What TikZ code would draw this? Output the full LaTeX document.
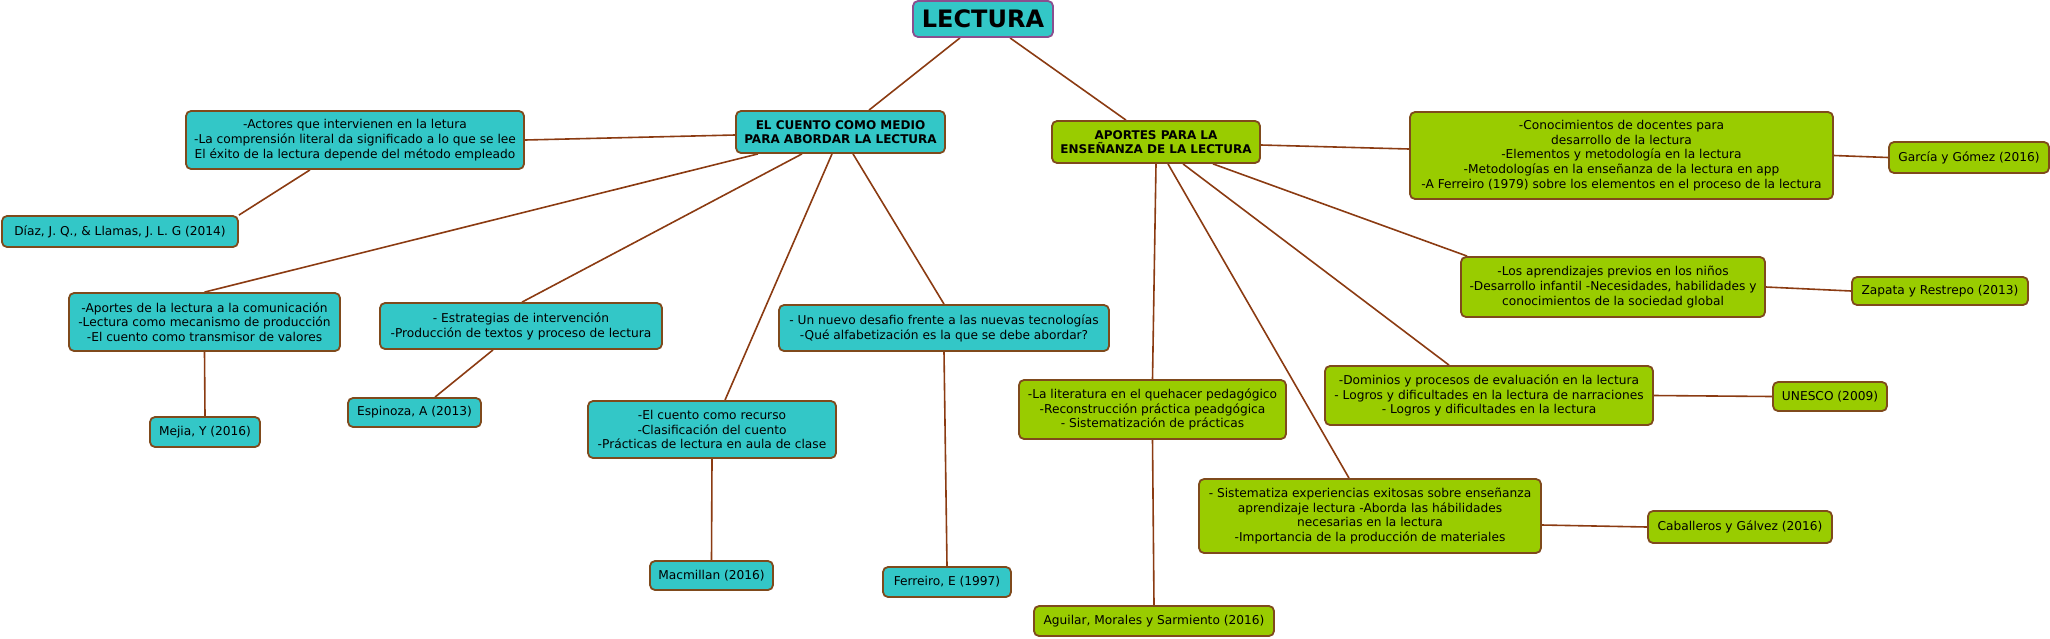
\documentclass[tikz,border=0pt]{standalone}
\usepackage{fontspec}
\setmainfont{DejaVu Sans}
\usetikzlibrary{backgrounds}
\definecolor{teal1}{HTML}{33C7C7}
\definecolor{green1}{HTML}{99CC00}
\definecolor{bord}{HTML}{7F4A1C}
\definecolor{conn}{HTML}{8B3B12}
\definecolor{purp}{HTML}{8A4F8F}
\tikzset{
  box/.style={draw=bord, line width=1.8pt, rounded corners=5pt, align=center,
    inner xsep=2pt, inner ysep=1pt, text=black,
    font=\fontsize{12.2}{14.8}\selectfont},
  tbox/.style={box, fill=teal1},
  gbox/.style={box, fill=green1},
  title/.style={font=\fontsize{12}{14}\selectfont\bfseries},
  conline/.style={draw=conn, line width=1.6pt},
}
\begin{document}
\begin{tikzpicture}[x=1pt,y=-1pt]
\useasboundingbox (0,0) rectangle (2050,638);
% nodes
\node[tbox, draw=purp, minimum width=140pt, minimum height=36pt, font=\fontsize{24}{26}\selectfont\bfseries] (lectura) at (983,19) {LECTURA};
\node[tbox, title, minimum width=209pt, minimum height=42pt] (cuento) at (840.5,132) {EL CUENTO COMO MEDIO\\PARA ABORDAR LA LECTURA};
\node[gbox, title, minimum width=208pt, minimum height=42pt] (aportes) at (1156,142) {APORTES PARA LA\\ENSEÑANZA DE LA LECTURA};

\node[tbox, minimum width=338pt, minimum height=58pt] (actores) at (355,140) {-Actores que intervienen en la letura\\-La comprensión literal da significado a lo que se lee\\El éxito de la lectura depende del método empleado};
\node[tbox, minimum width=236pt, minimum height=31pt] (diaz) at (120,231.5) {Díaz, J. Q., \& Llamas, J. L. G (2014)};
\node[tbox, minimum width=271pt, minimum height=58pt] (aplect) at (204.5,322) {-Aportes de la lectura a la comunicación\\-Lectura como mecanismo de producción\\-El cuento como transmisor de valores};
\node[tbox, minimum width=282pt, minimum height=46pt] (estrat) at (521,326) {- Estrategias de intervención\\-Producción de textos y proceso de lectura};
\node[tbox, minimum width=110pt, minimum height=30pt] (mejia) at (205,432) {Mejia, Y (2016)};
\node[tbox, minimum width=133pt, minimum height=29pt] (espin) at (414.5,412.5) {Espinoza, A (2013)};
\node[tbox, minimum width=248pt, minimum height=57pt] (recurso) at (712,429.5) {-El cuento como recurso\\-Clasificación del cuento\\-Prácticas de lectura en aula de clase};
\node[tbox, minimum width=330pt, minimum height=46pt] (desafio) at (944,328) {- Un nuevo desafio frente a las nuevas tecnologías\\-Qué alfabetización es la que se debe abordar?};
\node[tbox, minimum width=123pt, minimum height=29pt] (macm) at (711.5,575.5) {Macmillan (2016)};
\node[tbox, minimum width=128pt, minimum height=30pt] (ferr) at (947,582) {Ferreiro, E (1997)};

\node[gbox, minimum width=267pt, minimum height=59pt] (liter) at (1152.5,409.5) {-La literatura en el quehacer pedagógico\\-Reconstrucción práctica peadgógica\\- Sistematización de prácticas};
\node[gbox, minimum width=240pt, minimum height=30pt] (aguilar) at (1154,621) {Aguilar, Morales y Sarmiento (2016)};
\node[gbox, minimum width=423pt, minimum height=87pt] (conoc) at (1621.5,155.5) {-Conocimientos de docentes para\\desarrollo de la lectura\\-Elementos y metodología en la lectura\\-Metodologías en la enseñanza de la lectura en app\\-A Ferreiro (1979) sobre los elementos en el proceso de la lectura};
\node[gbox, minimum width=160pt, minimum height=31pt] (garcia) at (1969,157.5) {García y Gómez (2016)};
\node[gbox, minimum width=304pt, minimum height=60pt] (aprend) at (1613,287) {-Los aprendizajes previos en los niños\\-Desarrollo infantil -Necesidades, habilidades y\\conocimientos de la sociedad global};
\node[gbox, minimum width=176pt, minimum height=28pt] (zapata) at (1940,291) {Zapata y Restrepo (2013)};
\node[gbox, minimum width=328pt, minimum height=59pt] (domin) at (1489,395.5) {-Dominios y procesos de evaluación en la lectura\\- Logros y dificultades en la lectura de narraciones\\- Logros y dificultades en la lectura};
\node[gbox, minimum width=114pt, minimum height=29pt] (unesco) at (1830,396.5) {UNESCO (2009)};
\node[gbox, minimum width=342pt, minimum height=74pt] (sistem) at (1370,516) {- Sistematiza experiencias exitosas sobre enseñanza\\aprendizaje lectura -Aborda las hábilidades\\necesarias en la lectura\\-Importancia de la producción de materiales};
\node[gbox, minimum width=184pt, minimum height=32pt] (caball) at (1740,527) {Caballeros y Gálvez (2016)};

% connectors
\begin{scope}[on background layer]
\path[conline] ([xshift=-23pt]lectura.south) -- ([xshift=28.5pt]cuento.north);
\path[conline] ([xshift=27pt]lectura.south) -- ([xshift=-30pt]aportes.north);
\path[conline] ([yshift=-3pt]cuento.west) -- (actores.east);
\path[conline] ([xshift=-45pt]actores.south) -- (diaz.north east);
\path[conline] ([xshift=-82.5pt]cuento.south) -- (aplect.north);
\path[conline] ([xshift=-38.5pt]cuento.south) -- ([xshift=1pt]estrat.north);
\path[conline] ([xshift=-8.5pt]cuento.south) -- ([xshift=13pt]recurso.north);
\path[conline] ([xshift=12.5pt]cuento.south) -- (desafio.north);
\path[conline] ([xshift=-28pt]estrat.south) -- ([xshift=20.5pt]espin.north);
\path[conline] (aplect.south) -- (mejia.north);
\path[conline] (recurso.south) -- (macm.north);
\path[conline] (desafio.south) -- (ferr.north);
\path[conline] ([yshift=-3pt]aportes.east) -- ([yshift=6.5pt]conoc.west);
\path[conline] (aportes.south) -- (liter.north);
\path[conline] ([xshift=12pt]aportes.south) -- ([xshift=-21pt]sistem.north);
\path[conline] ([xshift=27pt]aportes.south) -- ([xshift=-40pt]domin.north);
\path[conline] ([xshift=57pt]aportes.south) -- ([xshift=7pt]aprend.north west);
\path[conline] (conoc.east) -- (garcia.west);
\path[conline] (aprend.east) -- (zapata.west);
\path[conline] (domin.east) -- (unesco.west);
\path[conline] ([yshift=-9pt]sistem.east) -- (caball.west);
\path[conline] (liter.south) -- (aguilar.north);
\end{scope}
\end{tikzpicture}
\end{document}
